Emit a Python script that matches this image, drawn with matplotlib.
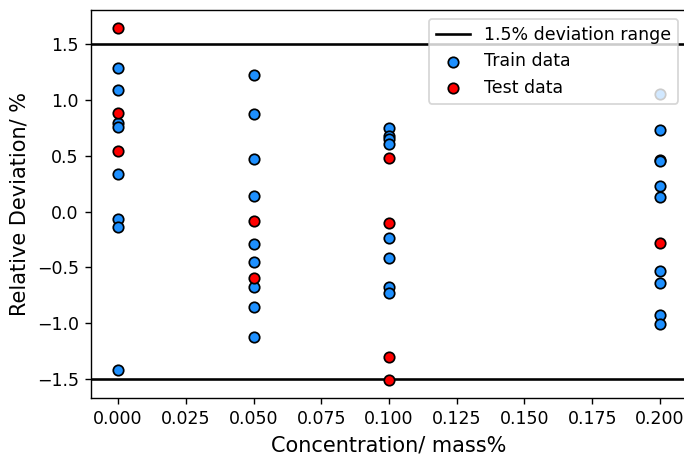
import matplotlib
matplotlib.use("Agg")
import matplotlib.pyplot as plt

# relative deviation (%) of the model at each concentration
train_x = [0.0]*8 + [0.05]*9 + [0.1]*8 + [0.2]*10
train_y = [1.285, 1.088, 0.79, 0.76, 0.34, -0.07, -0.14, -1.42,
           1.228, 0.879, 0.467, 0.139, -0.29, -0.452, -0.679, -0.858, -1.126,
           0.745, 0.68, 0.65, 0.61, -0.235, -0.42, -0.673, -0.727,
           1.058, 0.735, 0.46, 0.45, 0.228, 0.133, -0.53, -0.637, -0.927, -1.01]
test_x = [0.0]*3 + [0.05]*2 + [0.1]*4 + [0.2]
test_y = [1.65, 0.885, 0.54,
          -0.085, -0.598,
          0.476, -0.10, -1.309, -1.515,
          -0.285]

fig = plt.figure(figsize=(684/125, 454/125), dpi=125)
ax = fig.add_axes([91/684, 56/454, 596/684, 388/454])

ax.axhline(1.5, color="black", lw=1.5, label="1.5% deviation range")
ax.axhline(-1.5, color="black", lw=1.5)
ax.scatter(train_x, train_y, c="#1E90FF", edgecolors="black", linewidths=1.0, label="Train data", zorder=3)
ax.scatter(test_x, test_y, c="red", edgecolors="black", linewidths=1.0, label="Test data", zorder=3)

ax.set_xlim(-0.01, 0.21)
ax.set_ylim(-1.673, 1.808)
ax.set_xticks([0.0, 0.025, 0.05, 0.075, 0.1, 0.125, 0.15, 0.175, 0.2])
ax.set_yticks([-1.5, -1.0, -0.5, 0.0, 0.5, 1.0, 1.5])
ax.tick_params(labelsize=10)
ax.set_xlabel("Concentration/ mass%", fontsize=12)
ax.set_ylabel("Relative Deviation/ %", fontsize=12)
ax.legend(loc="upper right", fontsize=10)

fig.savefig("out.png", dpi=125)
